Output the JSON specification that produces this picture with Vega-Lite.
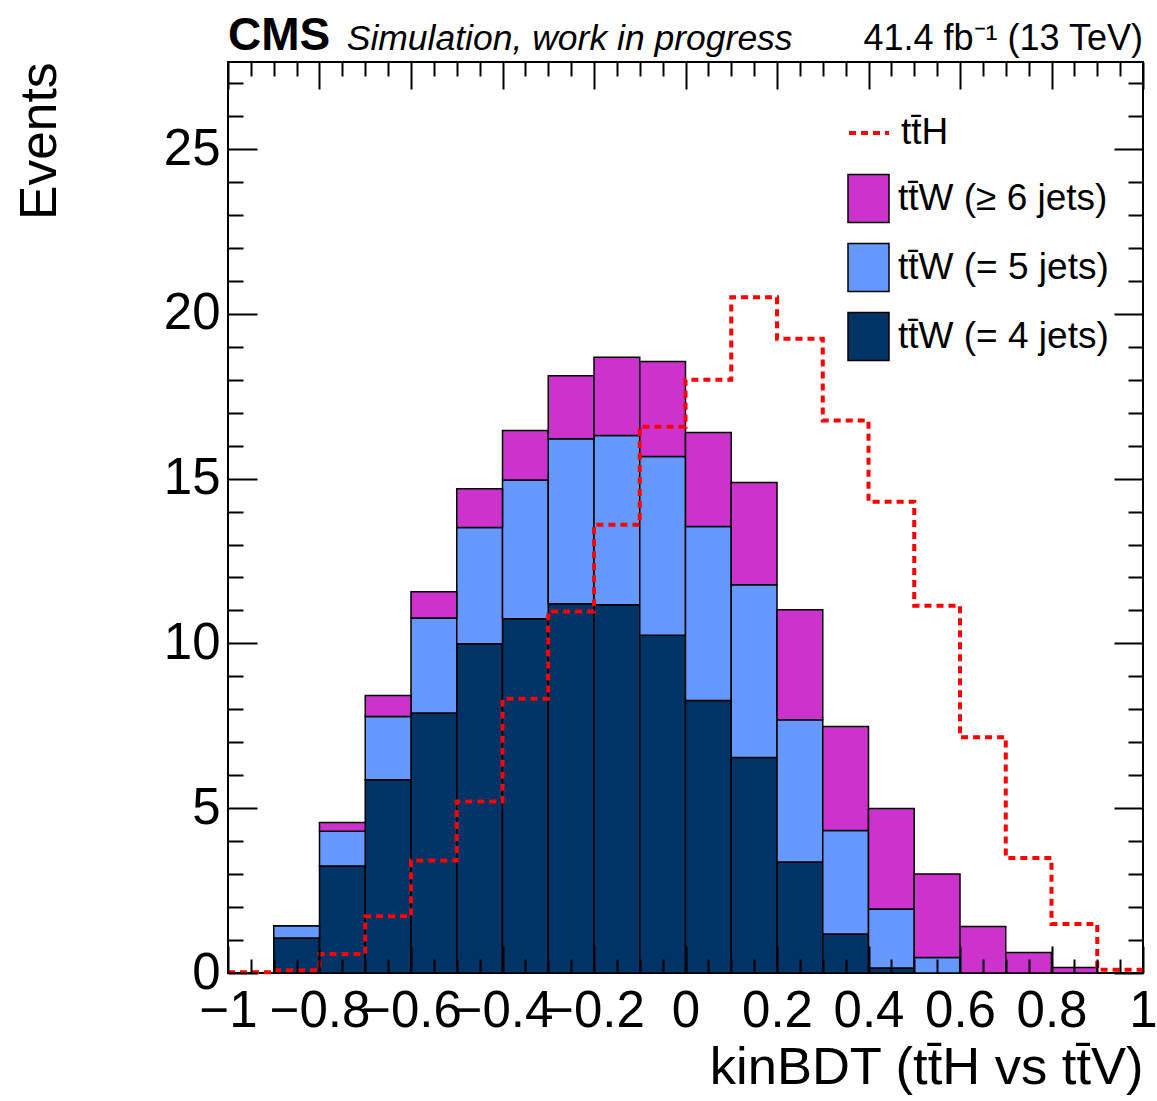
{
  "$schema": "https://vega.github.io/schema/vega-lite/v6.json",
  "width": 915,
  "height": 911,
  "autosize": {"type": "none"},
  "padding": {"left": 228, "top": 62, "right": 14, "bottom": 128},
  "background": "white",
  "config": {"font": "Liberation Sans", "view": {"stroke": "black", "strokeWidth": 2}},
  "datasets": {
    "stack": [
      {"lo": -1.0, "hi": -0.9, "sample": "tt\u0304W (= 4 jets)", "events": 0},
      {"lo": -0.9, "hi": -0.8, "sample": "tt\u0304W (= 4 jets)", "events": 1.06},
      {"lo": -0.8, "hi": -0.7, "sample": "tt\u0304W (= 4 jets)", "events": 3.25},
      {"lo": -0.7, "hi": -0.6, "sample": "tt\u0304W (= 4 jets)", "events": 5.86},
      {"lo": -0.6, "hi": -0.5, "sample": "tt\u0304W (= 4 jets)", "events": 7.89},
      {"lo": -0.5, "hi": -0.4, "sample": "tt\u0304W (= 4 jets)", "events": 9.99},
      {"lo": -0.4, "hi": -0.3, "sample": "tt\u0304W (= 4 jets)", "events": 10.75},
      {"lo": -0.3, "hi": -0.2, "sample": "tt\u0304W (= 4 jets)", "events": 11.2},
      {"lo": -0.2, "hi": -0.1, "sample": "tt\u0304W (= 4 jets)", "events": 11.17},
      {"lo": -0.1, "hi": 0.0, "sample": "tt\u0304W (= 4 jets)", "events": 10.25},
      {"lo": 0.0, "hi": 0.1, "sample": "tt\u0304W (= 4 jets)", "events": 8.27},
      {"lo": 0.1, "hi": 0.2, "sample": "tt\u0304W (= 4 jets)", "events": 6.54},
      {"lo": 0.2, "hi": 0.3, "sample": "tt\u0304W (= 4 jets)", "events": 3.37},
      {"lo": 0.3, "hi": 0.4, "sample": "tt\u0304W (= 4 jets)", "events": 1.18},
      {"lo": 0.4, "hi": 0.5, "sample": "tt\u0304W (= 4 jets)", "events": 0.15},
      {"lo": 0.5, "hi": 0.6, "sample": "tt\u0304W (= 4 jets)", "events": 0},
      {"lo": 0.6, "hi": 0.7, "sample": "tt\u0304W (= 4 jets)", "events": 0},
      {"lo": 0.7, "hi": 0.8, "sample": "tt\u0304W (= 4 jets)", "events": 0},
      {"lo": 0.8, "hi": 0.9, "sample": "tt\u0304W (= 4 jets)", "events": 0},
      {"lo": 0.9, "hi": 1.0, "sample": "tt\u0304W (= 4 jets)", "events": 0},
      {"lo": -1.0, "hi": -0.9, "sample": "tt\u0304W (= 5 jets)", "events": 0},
      {"lo": -0.9, "hi": -0.8, "sample": "tt\u0304W (= 5 jets)", "events": 0.37},
      {"lo": -0.8, "hi": -0.7, "sample": "tt\u0304W (= 5 jets)", "events": 1.05},
      {"lo": -0.7, "hi": -0.6, "sample": "tt\u0304W (= 5 jets)", "events": 1.92},
      {"lo": -0.6, "hi": -0.5, "sample": "tt\u0304W (= 5 jets)", "events": 2.88},
      {"lo": -0.5, "hi": -0.4, "sample": "tt\u0304W (= 5 jets)", "events": 3.53},
      {"lo": -0.4, "hi": -0.3, "sample": "tt\u0304W (= 5 jets)", "events": 4.21},
      {"lo": -0.3, "hi": -0.2, "sample": "tt\u0304W (= 5 jets)", "events": 5.01},
      {"lo": -0.2, "hi": -0.1, "sample": "tt\u0304W (= 5 jets)", "events": 5.14},
      {"lo": -0.1, "hi": 0.0, "sample": "tt\u0304W (= 5 jets)", "events": 5.42},
      {"lo": 0.0, "hi": 0.1, "sample": "tt\u0304W (= 5 jets)", "events": 5.28},
      {"lo": 0.1, "hi": 0.2, "sample": "tt\u0304W (= 5 jets)", "events": 5.24},
      {"lo": 0.2, "hi": 0.3, "sample": "tt\u0304W (= 5 jets)", "events": 4.31},
      {"lo": 0.3, "hi": 0.4, "sample": "tt\u0304W (= 5 jets)", "events": 3.14},
      {"lo": 0.4, "hi": 0.5, "sample": "tt\u0304W (= 5 jets)", "events": 1.79},
      {"lo": 0.5, "hi": 0.6, "sample": "tt\u0304W (= 5 jets)", "events": 0.47},
      {"lo": 0.6, "hi": 0.7, "sample": "tt\u0304W (= 5 jets)", "events": 0},
      {"lo": 0.7, "hi": 0.8, "sample": "tt\u0304W (= 5 jets)", "events": 0},
      {"lo": 0.8, "hi": 0.9, "sample": "tt\u0304W (= 5 jets)", "events": 0},
      {"lo": 0.9, "hi": 1.0, "sample": "tt\u0304W (= 5 jets)", "events": 0},
      {"lo": -1.0, "hi": -0.9, "sample": "tt\u0304W (\u2265 6 jets)", "events": 0},
      {"lo": -0.9, "hi": -0.8, "sample": "tt\u0304W (\u2265 6 jets)", "events": 0},
      {"lo": -0.8, "hi": -0.7, "sample": "tt\u0304W (\u2265 6 jets)", "events": 0.27},
      {"lo": -0.7, "hi": -0.6, "sample": "tt\u0304W (\u2265 6 jets)", "events": 0.64},
      {"lo": -0.6, "hi": -0.5, "sample": "tt\u0304W (\u2265 6 jets)", "events": 0.8},
      {"lo": -0.5, "hi": -0.4, "sample": "tt\u0304W (\u2265 6 jets)", "events": 1.17},
      {"lo": -0.4, "hi": -0.3, "sample": "tt\u0304W (\u2265 6 jets)", "events": 1.5},
      {"lo": -0.3, "hi": -0.2, "sample": "tt\u0304W (\u2265 6 jets)", "events": 1.91},
      {"lo": -0.2, "hi": -0.1, "sample": "tt\u0304W (\u2265 6 jets)", "events": 2.37},
      {"lo": -0.1, "hi": 0.0, "sample": "tt\u0304W (\u2265 6 jets)", "events": 2.88},
      {"lo": 0.0, "hi": 0.1, "sample": "tt\u0304W (\u2265 6 jets)", "events": 2.85},
      {"lo": 0.1, "hi": 0.2, "sample": "tt\u0304W (\u2265 6 jets)", "events": 3.1},
      {"lo": 0.2, "hi": 0.3, "sample": "tt\u0304W (\u2265 6 jets)", "events": 3.34},
      {"lo": 0.3, "hi": 0.4, "sample": "tt\u0304W (\u2265 6 jets)", "events": 3.16},
      {"lo": 0.4, "hi": 0.5, "sample": "tt\u0304W (\u2265 6 jets)", "events": 3.05},
      {"lo": 0.5, "hi": 0.6, "sample": "tt\u0304W (\u2265 6 jets)", "events": 2.53},
      {"lo": 0.6, "hi": 0.7, "sample": "tt\u0304W (\u2265 6 jets)", "events": 1.41},
      {"lo": 0.7, "hi": 0.8, "sample": "tt\u0304W (\u2265 6 jets)", "events": 0.62},
      {"lo": 0.8, "hi": 0.9, "sample": "tt\u0304W (\u2265 6 jets)", "events": 0.17},
      {"lo": 0.9, "hi": 1.0, "sample": "tt\u0304W (\u2265 6 jets)", "events": 0}
    ],
    "tth": [
      {"edge": -1.0, "events": 0.02},
      {"edge": -0.9, "events": 0.08},
      {"edge": -0.8, "events": 0.58},
      {"edge": -0.7, "events": 1.72},
      {"edge": -0.6, "events": 3.41},
      {"edge": -0.5, "events": 5.2},
      {"edge": -0.4, "events": 8.32},
      {"edge": -0.3, "events": 10.97},
      {"edge": -0.2, "events": 13.6},
      {"edge": -0.1, "events": 16.57},
      {"edge": 0.0, "events": 18.0},
      {"edge": 0.1, "events": 20.5},
      {"edge": 0.2, "events": 19.24},
      {"edge": 0.3, "events": 16.76},
      {"edge": 0.4, "events": 14.3},
      {"edge": 0.5, "events": 11.14},
      {"edge": 0.6, "events": 7.15},
      {"edge": 0.7, "events": 3.49},
      {"edge": 0.8, "events": 1.49},
      {"edge": 0.9, "events": 0.1},
      {"edge": 1.0, "events": 0.1}
    ]
  },
  "layer": [
    {
      "data": {"name": "stack"},
      "transform": [
        {"stack": "events", "groupby": ["lo"], "sort": [{"field": "sample", "order": "ascending"}], "as": ["y0", "y1"]}
      ],
      "mark": {"type": "bar", "stroke": "black", "strokeWidth": 1.5},
      "encoding": {
        "x": {
          "field": "lo", "type": "quantitative",
          "scale": {"domain": [-1, 1], "nice": false, "zero": false},
          "axis": {
            "orient": "bottom",
            "values": [-1, -0.95, -0.9, -0.85, -0.8, -0.75, -0.7, -0.65, -0.6, -0.55, -0.5, -0.45, -0.4, -0.35, -0.3, -0.25, -0.2, -0.15, -0.1, -0.05, 0, 0.05, 0.1, 0.15, 0.2, 0.25, 0.3, 0.35, 0.4, 0.45, 0.5, 0.55, 0.6, 0.65, 0.7, 0.75, 0.8, 0.85, 0.9, 0.95, 1],
            "format": "~g",
            "labelExpr": "abs(datum.value*5-round(datum.value*5))<0.001 ? datum.label : ''",
            "ticks": false, "domain": false, "grid": true,
            "gridColor": "black", "gridOpacity": 1, "gridWidth": 2,
            "gridDash": {"condition": {"test": "abs(datum.value*5-round(datum.value*5))<0.001", "value": [27, 3000]}, "value": [14, 3000]},
            "labelFontSize": 51, "labelColor": "black", "labelPadding": 13,
            "labelOverlap": false, "labelFlush": false, "labelBound": false,
            "title": "kinBDT (tt\u0304H vs tt\u0304V)",
            "titleFontSize": 52.5, "titleFontWeight": "normal", "titleColor": "black",
            "titleAnchor": "end", "titleAlign": "right", "titleX": 915, "titleY": 110, "titleBaseline": "alphabetic",
            "zindex": 1
          }
        },
        "x2": {"field": "hi"},
        "y": {
          "field": "y1", "type": "quantitative",
          "scale": {"domain": [0, 27.64], "nice": false},
          "axis": {
            "orient": "left",
            "values": [0, 1, 2, 3, 4, 5, 6, 7, 8, 9, 10, 11, 12, 13, 14, 15, 16, 17, 18, 19, 20, 21, 22, 23, 24, 25, 26, 27],
            "labelExpr": "datum.value % 5 === 0 ? datum.label : ''",
            "ticks": false, "domain": false, "grid": true,
            "gridColor": "black", "gridOpacity": 1, "gridWidth": 2,
            "gridDash": {"condition": {"test": "datum.value % 5 === 0", "value": [29, 3000]}, "value": [15, 3000]},
            "labelFontSize": 51, "labelColor": "black", "labelPadding": 8,
            "labelOverlap": false, "labelFlush": false, "labelBound": false,
            "title": "Events",
            "titleFontSize": 51.5, "titleFontWeight": "normal", "titleColor": "black",
            "titleAngle": -90, "titleAlign": "right", "titleBaseline": "top",
            "titleX": -214, "titleY": 0,
            "zindex": 1
          }
        },
        "y2": {"field": "y0"},
        "fill": {
          "field": "sample", "type": "nominal",
          "scale": {
            "domain": ["tt\u0304W (\u2265 6 jets)", "tt\u0304W (= 5 jets)", "tt\u0304W (= 4 jets)"],
            "range": ["#cc33cc", "#6699ff", "#003366"]
          },
          "legend": {
            "orient": "none", "legendX": 619, "legendY": 115, "title": null, "padding": 0,
            "labelFontSize": 37, "labelColor": "black", "labelOffset": 8, "rowPadding": 14, "labelLimit": 500,
            "symbolType": "M-1,-1.17H1V1.17H-1Z", "symbolSize": 1681,
            "symbolStrokeColor": "black", "symbolStrokeWidth": 1.5, "symbolOpacity": 1
          }
        }
      }
    },
    {
      "data": {"name": "tth"},
      "mark": {"type": "line", "interpolate": "step-after", "strokeDash": [7, 5], "strokeWidth": 4},
      "encoding": {
        "x": {
          "field": "edge", "type": "quantitative",
          "axis": {
            "orient": "top",
            "values": [-1, -0.95, -0.9, -0.85, -0.8, -0.75, -0.7, -0.65, -0.6, -0.55, -0.5, -0.45, -0.4, -0.35, -0.3, -0.25, -0.2, -0.15, -0.1, -0.05, 0, 0.05, 0.1, 0.15, 0.2, 0.25, 0.3, 0.35, 0.4, 0.45, 0.5, 0.55, 0.6, 0.65, 0.7, 0.75, 0.8, 0.85, 0.9, 0.95, 1],
            "labels": false, "ticks": false, "domain": false, "grid": true, "title": null,
            "gridColor": "black", "gridOpacity": 1, "gridWidth": 2,
            "gridDash": {"condition": {"test": "abs(datum.value*5-round(datum.value*5))<0.001", "value": [27, 3000]}, "value": [14, 3000]},
            "zindex": 1
          }
        },
        "y": {
          "field": "events", "type": "quantitative",
          "axis": {
            "orient": "right",
            "values": [0, 1, 2, 3, 4, 5, 6, 7, 8, 9, 10, 11, 12, 13, 14, 15, 16, 17, 18, 19, 20, 21, 22, 23, 24, 25, 26, 27],
            "labels": false, "ticks": false, "domain": false, "grid": true, "title": null,
            "gridColor": "black", "gridOpacity": 1, "gridWidth": 2,
            "gridDash": {"condition": {"test": "datum.value % 5 === 0", "value": [29, 3000]}, "value": [15, 3000]},
            "zindex": 1
          }
        },
        "stroke": {
          "datum": "tt\u0304H", "type": "nominal",
          "scale": {"range": ["#ff0000"]},
          "legend": {
            "orient": "none", "legendX": 619, "legendY": 49, "title": null, "padding": 0,
            "labelFontSize": 37, "labelColor": "black", "labelOffset": 10, "labelLimit": 500,
            "symbolType": "stroke", "symbolSize": 1600, "symbolStrokeWidth": 4, "symbolDash": [7, 5]
          }
        }
      }
    },
    {
      "data": {"values": [{}]},
      "mark": {"type": "text", "text": "CMS", "fontWeight": "bold", "fontSize": 46, "align": "left", "baseline": "alphabetic", "dy": -12, "color": "black"},
      "encoding": {"x": {"datum": -1, "type": "quantitative", "axis": null}, "y": {"datum": 27.64, "type": "quantitative", "axis": null}}
    },
    {
      "data": {"values": [{}]},
      "mark": {"type": "text", "text": "Simulation, work in progress", "fontStyle": "italic", "fontSize": 35.5, "align": "left", "baseline": "alphabetic", "dy": -12, "color": "black"},
      "encoding": {"x": {"datum": -0.7405, "type": "quantitative", "axis": null}, "y": {"datum": 27.64, "type": "quantitative", "axis": null}}
    },
    {
      "data": {"values": [{}]},
      "mark": {"type": "text", "text": "41.4 fb\u207b\u00b9 (13 TeV)", "fontSize": 36, "align": "right", "baseline": "alphabetic", "dy": -12, "color": "black"},
      "encoding": {"x": {"datum": 1, "type": "quantitative", "axis": null}, "y": {"datum": 27.64, "type": "quantitative", "axis": null}}
    }
  ],
  "resolve": {"axis": {"x": "independent", "y": "independent"}}
}
